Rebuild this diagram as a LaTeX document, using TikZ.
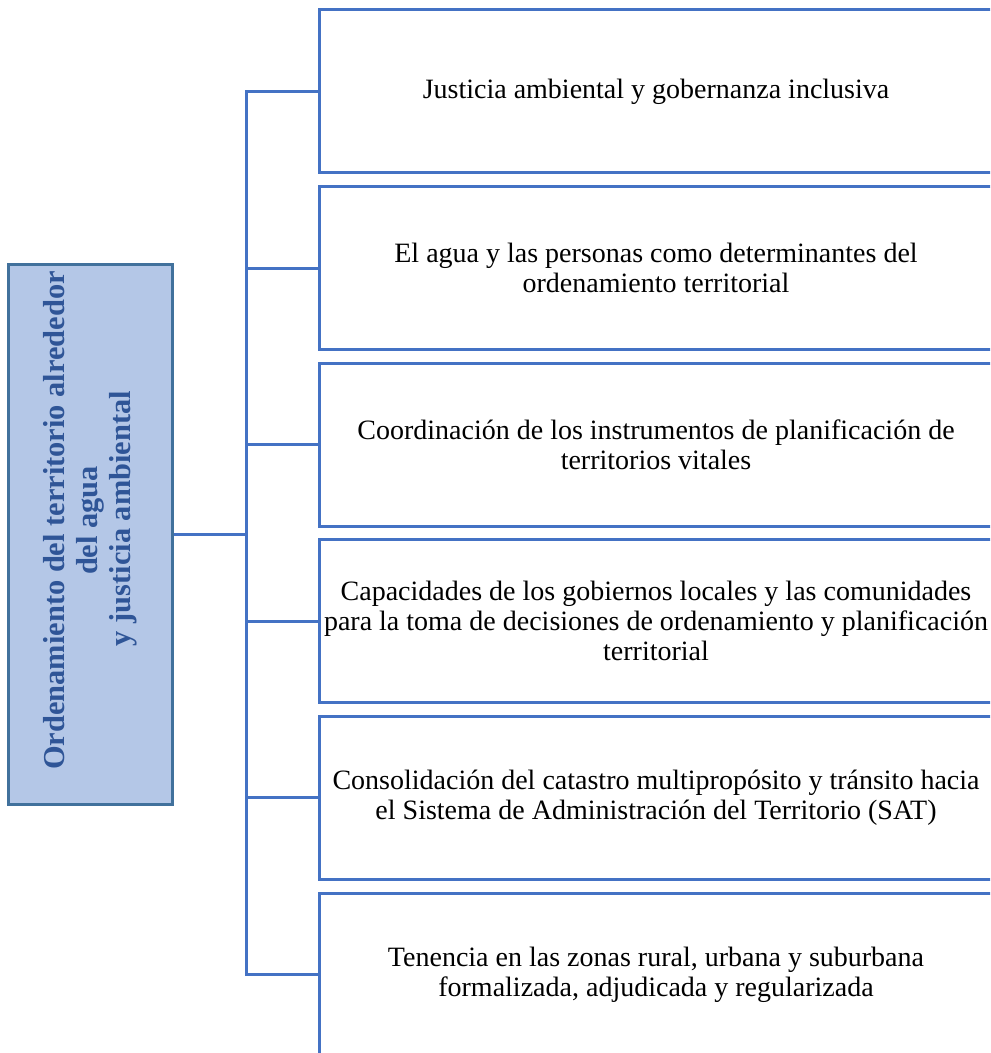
\documentclass[tikz,border=0pt]{standalone}
\usepackage{fontspec}
\setmainfont{Liberation Serif}
\usetikzlibrary{positioning}
\definecolor{boxblue}{HTML}{4472C4}
\definecolor{rootfill}{HTML}{B4C7E7}
\definecolor{rootline}{HTML}{41719C}
\definecolor{roottext}{HTML}{2F5597}

\begin{document}
\begin{tikzpicture}[x=0.5pt,y=-0.5pt,line join=miter,
        item/.style={draw=boxblue,line width=1.5pt,minimum width=337pt,minimum height=81.5pt,
                inner sep=0pt,align=center,font=\fontsize{14}{15}\selectfont},
        link/.style={draw=boxblue,line width=1.5pt}]
        \useasboundingbox (0,0) rectangle (990,1053);
        \clip (0,0) rectangle (990,1053);

        % root box, text reads upwards and sits a bit above the middle
        \node[fill=rootfill,draw=rootline,line width=1.5pt,rotate=90,minimum width=268.5pt,
                minimum height=82pt,align=center,text=roottext,
                font=\bfseries\fontsize{15.2}{16.5}\selectfont] (root) at (90,534.5)
                {\hspace*{14pt}Ordenamiento del territorio alrededor\\ \hspace*{14pt}del agua\\ \hspace*{16pt}y justicia ambiental};
        \coordinate (trunk) at ([xshift=36.5pt]root.south);

        % the six lines of action
        \node[item] (b1) at (656,91.5) {Justicia ambiental y gobernanza inclusiva};
        \node[item,below=5.3pt of b1] (b2) {El agua y las personas como determinantes del\\ ordenamiento territorial};
        \node[item,below=5.3pt of b2] (b3) {Coordinación de los instrumentos de planificación de\\ territorios vitales};
        \node[item,below=5.3pt of b3] (b4) {Capacidades de los gobiernos locales y las comunidades\\ para la toma de decisiones de ordenamiento y planificación\\ territorial};
        \node[item,below=5.3pt of b4] (b5) {Consolidación del catastro multipropósito y tránsito hacia\\ el Sistema de Administración del Territorio (SAT)};
        \node[item,below=5.3pt of b5] (b6) {Tenencia en las zonas rural, urbana y suburbana\\ formalizada, adjudicada y regularizada};

        \draw[link] (root.south) -- (trunk);
        \draw[link] (b1.west) -- (trunk |- b1.west) -- (trunk |- b6.west) -- (b6.west);
        \foreach \i in {2,...,5}
                \draw[link] (trunk |- b\i.west) -- (b\i.west);

\end{tikzpicture}
\end{document}
